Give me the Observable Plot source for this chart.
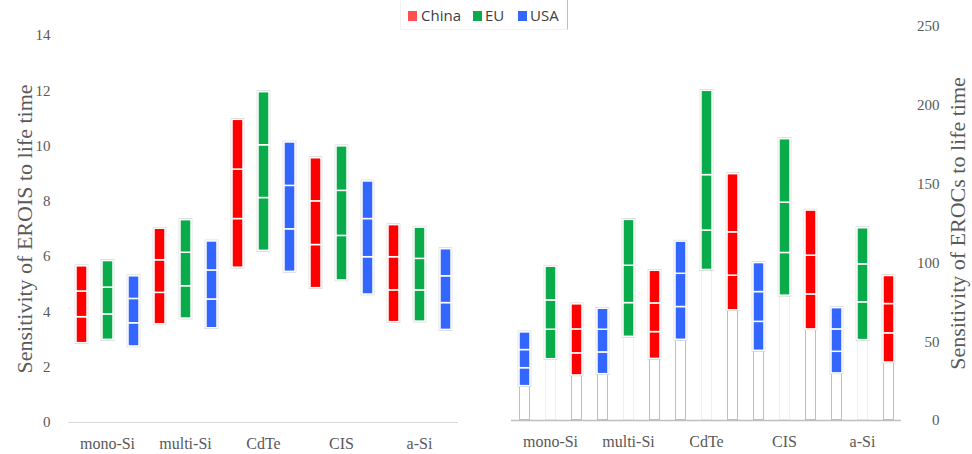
<!DOCTYPE html>
<html><head><meta charset="utf-8">
<script src="https://cdn.jsdelivr.net/npm/d3@7"></script>
<script src="https://cdn.jsdelivr.net/npm/@observablehq/plot@0.6"></script>
<style>
body{margin:0;background:#fff;}
#wrap{position:relative;width:972px;height:454px;overflow:hidden;background:#fff;}
#left{position:absolute;left:0;top:0;}
#right{position:absolute;left:480px;top:0;}
#legend{position:absolute;left:400px;top:0;width:168px;height:30px;box-sizing:border-box;border-left:1px solid #f2f2f2;border-bottom:1px solid #f2f2f2;border-right:1px solid #bfbfbf;font-family:'Open Sans',sans-serif;font-size:15px;color:#404040;}
#legend .sw{position:absolute;top:11px;width:9px;height:10px;}
#legend .lb{position:absolute;top:0;line-height:31px;}
</style>
</head><body>
<div id="wrap">
  <div id="left"></div>
  <div id="right"></div>
  <div id="legend"></div>
</div>
<script>
// ---- data ----
const categories = ["mono-Si", "multi-Si", "CdTe", "CIS", "a-Si"];
const regions = ["China", "EU", "USA"];
const regionColors = ["#ff0000", "#0aab4b", "#3366ff"];
const legendColors = ["#ff5050", "#0aab4b", "#3366ff"];
const leftTicks = [0, 2, 4, 6, 8, 10, 12, 14];
const rightTicks = [0, 50, 100, 150, 200, 250];
const leftTitle = "Sensitivity of EROIS to life time";
const rightTitle = "Sensitivity of EROCs to life time";

// EROIS: per category [min, break1, break2, max]
const eroisChina = [[2.87, 3.81, 4.74, 5.65], [3.55, 4.69, 5.87, 7.01], [5.60, 7.36, 9.15, 10.95], [4.86, 6.42, 8.00, 9.56], [3.63, 4.78, 5.98, 7.14]];
const eroisEU    = [[2.99, 3.91, 4.88, 5.84], [3.76, 4.93, 6.14, 7.32], [6.21, 8.12, 10.03, 11.95], [5.14, 6.75, 8.38, 9.99], [3.65, 4.78, 5.92, 7.05]];
const eroisUSA   = [[2.75, 3.59, 4.47, 5.29], [3.41, 4.45, 5.50, 6.55], [5.45, 6.99, 8.56, 10.13], [4.63, 5.98, 7.36, 8.72], [3.35, 4.32, 5.29, 6.27]];

// EROCs: per category [min, break1, break2, max]
const erocsChina = [[28.6, 42.6, 57.8, 73.7], [39.1, 56.1, 74.3, 95.0], [69.9, 91.9, 119.4, 156.3], [57.8, 80.0, 104.6, 133.2], [36.8, 55.3, 73.9, 91.7]];
const erocsEU    = [[38.9, 57.6, 76.2, 97.6], [53.1, 74.5, 98.2, 127.3], [95.5, 120.5, 155.7, 209.2], [79.2, 106.3, 138.2, 178.5], [51.0, 75.0, 99.1, 122.0]];
const erocsUSA   = [[21.8, 33.2, 44.7, 55.9], [29.4, 43.2, 57.6, 70.9], [51.2, 72.0, 93.1, 113.5], [44.2, 62.6, 81.5, 99.9], [29.9, 43.6, 57.8, 71.3]];

function buildRows(byRegion, order) {
  const env = [], seg = [];
  for (const r of order) {
    byRegion[r].forEach((v, i) => {
      env.push({group: categories[i], region: r, lo: v[0], hi: v[v.length - 1]});
      for (let k = 0; k < v.length - 1; k++) seg.push({group: categories[i], region: r, y1: v[k], y2: v[k + 1]});
    });
  }
  return {env, seg};
}

const baseStyle = {fontFamily: "'Liberation Serif','Times New Roman',serif", fontSize: "15px", color: "#595959", background: "white", overflow: "visible"};

const L = buildRows({China: eroisChina, EU: eroisEU, USA: eroisUSA}, regions);
const leftPlot = Plot.plot({
  width: 480, height: 454,
  marginLeft: 66, marginRight: 20, marginTop: 35, marginBottom: 32,
  style: baseStyle,
  fx: {domain: categories, padding: 0, label: null},
  x: {domain: regions, axis: null, paddingInner: 0.58, paddingOuter: 0.29},
  y: {domain: [0, 14]},
  color: {domain: regions, range: regionColors},
  marks: [
    Plot.ruleY([0], {stroke: "#d9d9d9"}),
    Plot.barY(L.env, {fx: "group", x: "region", y1: "lo", y2: "hi", fill: "white", stroke: "#c8c8c8", inset: -0.75}),
    Plot.barY(L.seg, {fx: "group", x: "region", y1: "y1", y2: "y2", fill: "region", stroke: "white", strokeWidth: 1.5}),
    Plot.axisY(leftTicks, {anchor: "left", tickSize: 0, tickPadding: 18, fontSize: 15, label: null}),
    Plot.axisFx({anchor: "bottom", tickSize: 0, tickPadding: 15, fontSize: 16, label: null}),
    Plot.text([leftTitle], {frameAnchor: "left", textAnchor: "middle", rotate: -90, dx: -44, fontSize: 22, fill: "#595959", facet: "super"})
  ]
});
document.getElementById("left").appendChild(leftPlot);

const rightOrder = ["USA", "EU", "China"];
const R = buildRows({China: erocsChina, EU: erocsEU, USA: erocsUSA}, rightOrder);
const rightPlot = Plot.plot({
  width: 492, height: 454,
  marginLeft: 29, marginRight: 69, marginTop: 26, marginBottom: 34,
  style: baseStyle,
  fx: {domain: categories, padding: 0, label: null},
  x: {domain: rightOrder, axis: null, paddingInner: 0.58, paddingOuter: 0.29},
  y: {domain: [0, 250]},
  color: {domain: regions, range: regionColors},
  marks: [
    Plot.barY(R.env.filter(d => d.region !== "EU"), {fx: "group", x: "region", y1: 0, y2: "lo", fill: "none", stroke: "#bfbfbf", inset: 0.5}),
    Plot.barY(R.env.filter(d => d.region === "EU"), {fx: "group", x: "region", y1: 0, y2: "lo", fill: "none", stroke: "#efefef", inset: 0.5}),
    Plot.ruleY([0], {stroke: "#bfbfbf", strokeWidth: 1.5}),
    Plot.barY(R.env, {fx: "group", x: "region", y1: "lo", y2: "hi", fill: "white", stroke: "#c8c8c8", inset: -0.75}),
    Plot.barY(R.seg, {fx: "group", x: "region", y1: "y1", y2: "y2", fill: "region", stroke: "white", strokeWidth: 1.5}),
    Plot.axisY(rightTicks, {anchor: "right", tickSize: 0, tickPadding: 38, textAnchor: "end", fontSize: 15, label: null}),
    Plot.axisFx({anchor: "bottom", tickSize: 0, tickPadding: 15, fontSize: 16, label: null}),
    Plot.text([rightTitle], {frameAnchor: "right", textAnchor: "middle", rotate: -90, dx: 56, fontSize: 22, fill: "#595959", facet: "super"})
  ]
});
document.getElementById("right").appendChild(rightPlot);

// legend
const legend = document.getElementById("legend");
const swLeft = [7, 72, 117], lbLeft = [20, 84, 129];
regions.forEach((r, i) => {
  const sw = document.createElement("div");
  sw.className = "sw"; sw.style.left = swLeft[i] + "px"; sw.style.background = legendColors[i];
  const lb = document.createElement("div");
  lb.className = "lb"; lb.style.left = lbLeft[i] + "px"; lb.textContent = r;
  legend.appendChild(sw); legend.appendChild(lb);
});
</script>
</body></html>
